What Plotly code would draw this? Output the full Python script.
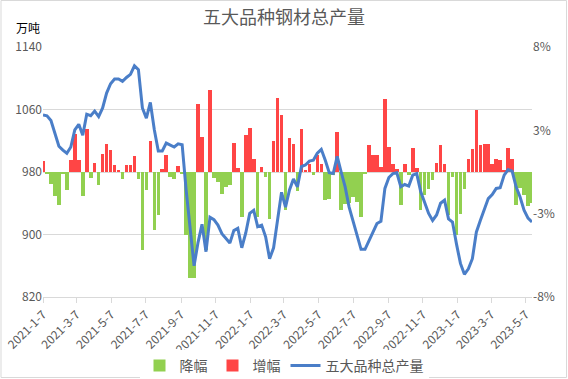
import pandas as pd
import plotly.graph_objects as go

# ---------------- data ----------------
start_date = "2021-01-07"
n_weeks = 124

total_output = [
    1053, 1052, 1046, 1029, 1013, 1008, 1004, 1012, 1034, 1041,
    1027, 1054, 1052, 1058, 1051, 1062, 1081, 1093, 1099, 1099,
    1096, 1101, 1105, 1116, 1111, 1062, 1049, 1069, 1034, 1007,
    1007, 1017, 1015, 1012, 1016, 1015, 957, 905, 860, 890,
    913, 878, 922, 919, 912, 901, 895, 889, 905, 908,
    883, 902, 927, 931, 910, 912, 897, 869, 883, 918,
    954, 935, 957, 971, 961, 987, 989, 994, 995, 1004,
    1009, 995, 979, 978, 1000, 980, 961, 935, 916, 899,
    881, 881, 892, 903, 914, 917, 959, 973, 978, 979,
    961, 964, 962, 976, 978, 955, 940, 927, 918, 925,
    940, 944, 920, 916, 888, 863, 849, 856, 869, 903,
    918, 932, 946, 951, 959, 960, 976, 983, 981, 961,
    948, 931, 921, 916,
]

change_pct = [
    0.68, -0.1, -0.75, -1.56, -2.13, -0.1, -1.13, 0.79, 2.41, 0.79,
    -1.56, 2.73, -0.36, 0.6, -0.85, 1.18, 1.82, 1.39, 0.47, 0.15,
    -0.42, 0.47, 0.45, 1.0, -0.42, -5.0, -1.17, 1.99, -3.73, -2.77,
    0.2, 1.07, -0.3, -0.42, 0.36, -0.1, -4.05, -6.8, -6.8, 4.38,
    2.24, -5.0, 5.27, -0.4, -0.64, -1.38, -0.96, -0.85, 1.86, 0.28,
    -2.88, 2.35, 2.84, 0.86, -2.88, 0.3, -0.3, -2.98, 1.99, 4.74,
    3.63, -2.41, 2.2, 1.8, -1.2, 2.78, 0.15, 0.53, -0.2, 1.07,
    0.53, -1.77, -1.7, -0.2, 2.56, -2.41, -2.07, -2.0, -1.6, -1.9,
    -2.88, -0.1, 1.71, 1.07, 1.1, 0.3, 4.7, 1.6, 0.53, 0.2,
    -2.13, 0.53, -0.2, 1.56, 0.25, -2.41, -1.5, -1.1, -0.5, 0.58,
    1.71, 0.5, -2.77, -0.3, -4.05, -2.7, -1.1, 0.86, 1.5, 4.0,
    1.71, 1.82, 1.78, 0.53, 0.86, 0.8, 0.1, 1.56, 0.86, -2.13,
    -1.0, -1.5, -2.2, -2.0,
]

tick_dates = [
    "2021-01-07", "2021-03-07", "2021-05-07", "2021-07-07", "2021-09-07",
    "2021-11-07", "2022-01-07", "2022-03-07", "2022-05-07", "2022-07-07",
    "2022-09-07", "2022-11-07", "2023-01-07", "2023-03-07", "2023-05-07",
]
tick_labels = [
    "2021-1-7", "2021-3-7", "2021-5-7", "2021-7-7", "2021-9-7",
    "2021-11-7", "2022-1-7", "2022-3-7", "2022-5-7", "2022-7-7",
    "2022-9-7", "2022-11-7", "2023-1-7", "2023-3-7", "2023-5-7",
]
left_ticks = [820, 900, 980, 1060, 1140]
right_tickvals = [-8, -8 / 3, 8 / 3, 8]
right_ticktext = ["-8%", "-3%", "3%", "8%"]

# ---------------- figure ----------------
dates = pd.date_range(start_date, periods=n_weeks, freq="7D")
dec = [v if v < 0 else None for v in change_pct]
inc = [v if v > 0 else None for v in change_pct]

FONT = "Noto Sans CJK SC, Microsoft YaHei, sans-serif"
GREY = "#595959"
bar_w = 7 * 86400000 * 0.9

fig = go.Figure()
fig.add_trace(go.Bar(x=dates, y=dec, name="降幅", marker_color="#92D050",
                     marker_line_width=0, width=bar_w, yaxis="y"))
fig.add_trace(go.Bar(x=dates, y=inc, name="增幅", marker_color="#FF4545",
                     marker_line_width=0, width=bar_w, yaxis="y"))
fig.add_trace(go.Scatter(x=dates, y=total_output, name="五大品种总产量", mode="lines",
                         line=dict(color="#4A7EC8", width=3), yaxis="y2"))

L, R, T, B = 43, 36, 47, 82
PW, PH = 568 - L - R, 379 - T - B

fig.update_layout(
    width=568, height=379,
    margin=dict(l=L, r=R, t=T, b=B, autoexpand=False),
    paper_bgcolor="white", plot_bgcolor="white",
    barmode="relative", bargap=0,
    font=dict(family=FONT, size=11, color=GREY),
    title=dict(text="五大品种钢材总产量", x=0.5, xanchor="center", y=1 - 18 / 379,
               yanchor="middle", font=dict(size=18, color=GREY, family=FONT)),
    xaxis=dict(type="date", range=["2021-01-07", "2023-05-18"],
               tickvals=tick_dates, ticktext=tick_labels, tickangle=-45,
               ticks="outside", ticklen=5, tickcolor="#d9d9d9",
               showline=True, linecolor="#d9d9d9", linewidth=1,
               showgrid=False, zeroline=False, automargin=False,
               tickfont=dict(size=12, color=GREY)),
    yaxis=dict(side="right", range=[-8, 8], tickvals=right_tickvals,
               ticktext=right_ticktext, showgrid=False, zeroline=False,
               showline=False, ticks="", automargin=False,
               tickfont=dict(size=12, color=GREY)),
    yaxis2=dict(side="left", overlaying="y", range=[820, 1140],
                tickvals=left_ticks, showgrid=True, gridcolor="#d9d9d9",
                gridwidth=1, zeroline=False, showline=False, ticks="",
                automargin=False, tickfont=dict(size=12, color=GREY)),
    legend=dict(orientation="h", x=0.5, xanchor="center", xref="container",
                y=1 - 366 / 379, yanchor="middle", yref="container",
                font=dict(size=14, color=GREY, family=FONT),
                traceorder="normal", itemwidth=30),
    showlegend=True,
)

fig.add_annotation(text="万吨", xref="paper", yref="paper",
                   x=(14 - L) / PW, y=(297 - 28) / PH, xanchor="left", yanchor="middle",
                   showarrow=False, font=dict(size=12, color="black", family=FONT))

fig.add_shape(type="rect", xref="paper", yref="paper",
              x0=(1 - L) / PW, x1=(566.5 - L) / PW,
              y0=(297 - 377.5) / PH, y1=(297 - 0.5) / PH,
              line=dict(color="#d9d9d9", width=1), fillcolor="rgba(0,0,0,0)", layer="below")

fig.write_html("out.html", config={"displayModeBar": False},
               post_script="document.body.style.margin='0';document.body.style.overflow='hidden';")
